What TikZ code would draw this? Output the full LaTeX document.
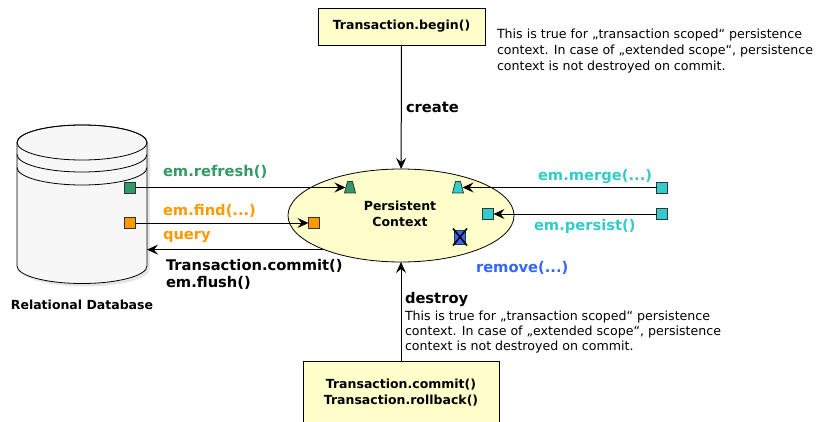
\documentclass[tikz,border=0pt]{standalone}
\usepackage{fontspec}
\setmainfont{DejaVu Sans}
\usepackage{tikz}
\usetikzlibrary{arrows.meta,shapes.geometric}
\definecolor{cFFFFCC}{RGB}{255,255,204}
\definecolor{cF7F7F7}{RGB}{247,247,247}
\definecolor{cD4D4D4}{RGB}{212,212,212}
\definecolor{c339966}{RGB}{51,153,102}
\definecolor{cFF9900}{RGB}{255,153,0}
\definecolor{c33CCCC}{RGB}{51,204,204}
\definecolor{c3366FF}{RGB}{51,102,255}
\definecolor{c333333}{RGB}{51,51,51}
\tikzset{
  lbl/.style={font=\bfseries\fontsize{14.7}{17}\selectfont, anchor=west, align=left},
  note/.style={font=\fontsize{12.6}{16}\selectfont, anchor=north west, align=left},
  ybox/.style={draw=black, fill=cFFFFCC, line width=0.8pt, align=center,
    font=\bfseries\fontsize{12.5}{15.5}\selectfont},
  sq/.style={draw=c333333, line width=0.8pt, minimum width=11, minimum height=11},
  trap/.style={draw=c333333, line width=0.8pt},
  arr/.style={draw=black, line width=1pt, -{Stealth[length=11pt,width=10pt,inset=4pt]}}
}
\begin{document}
\begin{tikzpicture}[y=1pt,x=1pt,yscale=-1, inner sep=0pt, outer sep=0pt]
    \useasboundingbox (0,0) rectangle (816,422);
    % relational database
    \path[fill=cD4D4D4,opacity=0.6] (20,145.5) -- (20,269)
      arc[start angle=180,end angle=0,x radius=65,y radius=17.5] -- (150,145.5)
      arc[start angle=0,end angle=-180,x radius=65,y radius=17.5] -- cycle;
    \path[draw=black,fill=cF7F7F7,line width=0.8pt] (17,142.5) -- (17,266)
      arc[start angle=180,end angle=0,x radius=65,y radius=17.5] -- (147,142.5)
      arc[start angle=0,end angle=-180,x radius=65,y radius=17.5] -- cycle;
    \path[draw=black,line width=0.8pt] (82,142.5) ellipse[x radius=65,y radius=17.5];
    \path[draw=black,line width=0.8pt] (17,154.5)
      arc[start angle=180,end angle=0,x radius=65,y radius=17.5];
    \path[draw=black,line width=0.8pt] (17,167.5)
      arc[start angle=180,end angle=0,x radius=65,y radius=17.5];
    \coordinate (dbR) at (147,250);
    \node[font=\bfseries\fontsize{12.5}{15}\selectfont] (dbLbl) at (82,305) {Relational Database};

    % persistence context
    \node[ellipse, draw=black, fill=cFFFFCC, line width=0.8pt, minimum width=226,
      minimum height=93] (ctx) at (401,215.5) {};
    \node[font=\bfseries\fontsize{12.5}{16}\selectfont, align=center] (ctxLbl)
      at (400,214) {Persistent\\Context};

    % transaction boxes
    \node[ybox, minimum width=167, minimum height=37] (begin) at (401.5,26.5)
      {Transaction.begin()};
    \node[ybox, minimum width=196, minimum height=63] (commit) at (401,392.5)
      {Transaction.commit()\\Transaction.rollback()};

    % squares and entities
    \node[sq, fill=c339966] (dbG) at (130,187.5) {};
    \node[sq, fill=cFF9900] (dbO) at (130,223) {};
    \path[trap, fill=c339966] (344.5,193) -- (347.5,181.5) -- (352.5,181.5) -- (355.5,193) -- cycle;
    \coordinate (ctxG) at (345.5,187.5);
    \node[sq, fill=cFF9900] (ctxO) at (314,223) {};
    \path[trap, fill=c33CCCC] (452.5,193) -- (455.5,181.5) -- (460.5,181.5) -- (463.5,193) -- cycle;
    \coordinate (ctxM) at (462.5,187.5);
    \node[sq, fill=c33CCCC] (ctxP) at (488,214) {};
    \node[sq, fill=c3366FF, minimum height=14] (ctxR) at (460,237) {};
    \path[draw=black,line width=1.6pt] (ctxR.north west) ++(-1.5,-1.5) -- ++(14,17);
    \path[draw=black,line width=1.6pt] (ctxR.north east) ++(1.5,-1.5) -- ++(-14,17);
    \node[sq, fill=c33CCCC] (extM) at (662,187.5) {};
    \node[sq, fill=c33CCCC] (extP) at (662,214) {};

    % connectors
    \path[arr] (dbG) -- (ctxG);
    \path[arr] (dbO) -- (ctxO);
    \path[arr] (ctx.204) -- (ctx.204 -| dbR);
    \path[arr] (extM) -- (ctxM);
    \path[arr] (extP) -- (ctxP);
    \path[arr] (begin) -- (ctx);
    \path[arr] (commit) -- (ctx);

    % labels
    \node[lbl, text=c339966] (lRefresh) at (163,172) {em.refresh()};
    \node[lbl, text=cFF9900] (lFind) at (163,211) {em.find(...)};
    \node[lbl, text=cFF9900] (lQuery) at (163,236.5) {query};
    \node[lbl] (lFlush) at (166,274) {Transaction.commit()\\em.flush()};
    \node[lbl, text=c33CCCC] (lMerge) at (538,177) {em.merge(...)};
    \node[lbl, text=c33CCCC] (lPersist) at (534,226) {em.persist()};
    \node[lbl, text=c3366FF] (lRemove) at (476,268) {remove(...)};
    \node[lbl] (lCreate) at (406,107) {create};
    \node[lbl] (lDestroy) at (405,300) {destroy};
    \node[note] (nTop) at (497,28.5) {This is true for „transaction scoped“ persistence\\
      context. In case of „extended scope“, persistence\\context is not destroyed on commit.};
    \node[note, font=\fontsize{12.6}{15.2}\selectfont] (nBot) at (405,310.5)
      {This is true for „transaction scoped“ persistence\\
      context. In case of „extended scope“, persistence\\context is not destroyed on commit.};
  \end{tikzpicture}
\end{document}
